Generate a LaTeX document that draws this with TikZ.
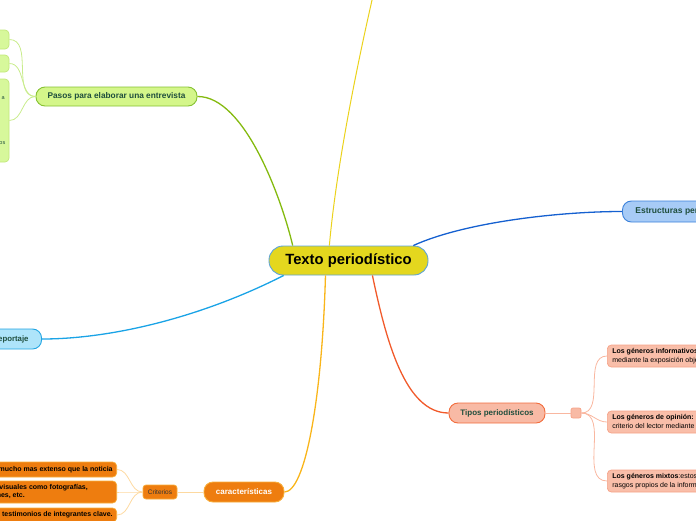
\documentclass[tikz,border=0pt]{standalone}
\usepackage{fontspec}
\setmainfont{Liberation Sans}
\definecolor{cYel}{HTML}{E4D71E}
\definecolor{cYelB}{HTML}{5CA3DA}
\definecolor{gFill}{HTML}{D4F68A}
\definecolor{gBord}{HTML}{86C232}
\definecolor{gsFill}{HTML}{D7F89B}
\definecolor{gsBord}{HTML}{C2E87A}
\definecolor{gMain}{HTML}{84BA0F}
\definecolor{gSub}{HTML}{C9EC8C}
\definecolor{yLine}{HTML}{EBD21C}
\definecolor{bFill}{HTML}{A7CBF6}
\definecolor{bBord}{HTML}{3A80DA}
\definecolor{bLine}{HTML}{1560D0}
\definecolor{cyFill}{HTML}{AEE4FA}
\definecolor{cyBord}{HTML}{22A5E2}
\definecolor{cyLine}{HTML}{1AA3E6}
\definecolor{rFill}{HTML}{F8BAA5}
\definecolor{rBord}{HTML}{F26D3D}
\definecolor{rLine}{HTML}{F15A2B}
\definecolor{sFill}{HTML}{F9BEA9}
\definecolor{sBord}{HTML}{F6A287}
\definecolor{sLine}{HTML}{F9B7A0}
\definecolor{oFill}{HTML}{EE7D0F}
\definecolor{oBord}{HTML}{F8AE3A}
\definecolor{aLine}{HTML}{F9B51A}
\definecolor{aLight}{HTML}{FDD9A0}
\definecolor{txtG}{HTML}{1F4E3D}
\begin{document}
\begin{tikzpicture}[x=1pt,y=-1pt,
  box/.style={draw, rectangle, inner sep=0pt, line width=0.9pt},
  pill/.style={box, rounded corners=9pt, minimum height=20pt},
  smallbox/.style={box, rounded corners=4pt, line width=0.7pt},
  conn/.style={line width=1.3pt},
  subconn/.style={line width=0.8pt},
  fs/.style={font=\fontsize{#1}{9}\selectfont}
]
\useasboundingbox (0,0) rectangle (696,520);
\clip (0,0) rectangle (696,520);

% ---- nodes ----
\node[pill, fill=cYel, draw=cYelB, minimum width=159pt, minimum height=29pt, rounded corners=14pt,
  font=\bfseries\fontsize{14.8}{16}\selectfont] (c) at (348.5,260.5) {Texto periodístico};

\node[pill, fill=gFill, draw=gBord, minimum width=161pt, minimum height=19pt, text=txtG,
  font=\bfseries\fontsize{8.3}{10}\selectfont] (pasos) at (116.5,96.5) {Pasos para elaborar una entrevista};

\node[smallbox, fill=gsFill, draw=gsBord, minimum width=80pt, minimum height=19pt] (g1) at (-31,39.5) {};
\node[smallbox, fill=gsFill, draw=gsBord, minimum width=80pt, minimum height=17pt] (g2) at (-31,63.5) {};
\node[smallbox, fill=gsFill, draw=gsBord, minimum width=80pt, minimum height=83pt] (g3) at (-31,120.5) {};
\node[fs=5.5, text=txtG, anchor=east, inner sep=0pt] (ga) at (5,98) {a};
\node[fs=5.5, text=txtG, anchor=east, inner sep=0pt] (gb) at (5.5,143) {os};

\node[pill, fill=bFill, draw=bBord, anchor=west, inner xsep=13pt, minimum height=21pt, text=txtG,
  font=\bfseries\fontsize{8.5}{10}\selectfont] (estr) at (622,211.5) {Estructuras periodísticas};

\node[pill, fill=cyFill, draw=cyBord, anchor=east, inner xsep=13pt, minimum height=20pt, text=txtG,
  font=\bfseries\fontsize{7.8}{9}\selectfont] (rep) at (42,339) {Reportaje};

\node[pill, fill=rFill, draw=rBord, minimum width=96pt, minimum height=20pt, text=txtG,
  font=\bfseries\fontsize{8}{9}\selectfont] (tipos) at (497,413) {Tipos periodísticos};

\node[box, fill=rFill, draw=sBord, rounded corners=2pt, minimum width=10pt, minimum height=10pt, line width=0.7pt] (sq) at (576,413) {};

\node[smallbox, fill=sFill, draw=sBord, anchor=west, inner xsep=5pt, minimum height=22pt, align=left, fs=7]
  (s1) at (607,356) {\textbf{Los géneros informativos:} buscan informar\\mediante la exposición objetiva de los hechos};
\node[smallbox, fill=sFill, draw=sBord, anchor=west, inner xsep=5pt, minimum height=22pt, align=left, fs=7]
  (s2) at (607,422) {\textbf{Los géneros de opinión:} expresan el\\criterio del lector mediante la argumentación};
\node[smallbox, fill=sFill, draw=sBord, anchor=west, inner xsep=5pt, minimum height=22pt, align=left, fs=7]
  (s3) at (607,481) {\textbf{Los géneros mixtos}:estos combinan\\rasgos propios de la información y opinión};

\node[pill, fill=oFill, draw=oBord, minimum width=80pt, minimum height=20pt, text=white,
  font=\bfseries\fontsize{8}{9}\selectfont] (car) at (244,492) {características};

\node[smallbox, fill=oFill, draw=oBord, rounded corners=3pt, minimum width=34pt, minimum height=14pt,
  text=black!80, fs=6.5] (crit) at (160,492) {Criterios};

\node[smallbox, fill=oFill, draw=oBord, anchor=east, inner xsep=4pt, minimum height=15pt,
  font=\bfseries\fontsize{7}{8.5}\selectfont] (o1) at (117,469.5) {Es mucho mas extenso que la noticia};
\node[smallbox, fill=oFill, draw=oBord, anchor=east, minimum width=200pt, minimum height=22pt] (o2) at (117,492) {};
\node[anchor=east, inner sep=0pt, font=\bfseries\fontsize{7}{8.5}\selectfont] (o2t) at (88,492)
  {\begin{tabular}{@{}l@{}}Utiliza recursos visuales como fotografías,\\gráficos, imágenes, etc.\end{tabular}};
\node[smallbox, fill=oFill, draw=oBord, anchor=east, inner xsep=4pt, minimum height=14pt,
  font=\bfseries\fontsize{7}{8.5}\selectfont] (o3) at (117,515) {Incluye testimonios de integrantes clave.};

\coordinate (ytop) at (372.5,-2);

% ---- connectors ----
\draw[subconn, gSub] (g1.east) to[out=0,in=180] (pasos.west);
\draw[subconn, gSub] (g2.east) to[out=0,in=180] (pasos.west);
\draw[subconn, gSub] (g3.east) to[out=0,in=180] (pasos.west);
\draw[conn, gMain] (pasos.east) .. controls (245,96) and (282,200) .. (c.165);
\draw[line width=1pt, yLine] (c.142) .. controls (336,170) and (356,70) .. (ytop);
\draw[conn, bLine] (c.13) .. controls (465,222) and (560,211.5) .. (estr.west);
\draw[conn, cyLine] (c.193) .. controls (200,318) and (110,339) .. (rep.east);
\draw[conn, rLine] (c.-32) .. controls (386,340) and (405,413) .. (tipos.west);
\draw[subconn, sLine] (tipos.east) -- (sq.west);
\draw[subconn, sLine] (sq.east) to[out=0,in=180] (s1.west);
\draw[subconn, sLine] (sq.east) to[out=0,in=180] (s2.west);
\draw[subconn, sLine] (sq.east) to[out=0,in=180] (s3.west);
\draw[conn, aLine] (c.213) .. controls (322,400) and (305,492) .. (car.east);
\draw[subconn, aLight] (car.west) -- (crit.east);
\draw[subconn, aLight] (crit.west) to[out=180,in=0] (o1.east);
\draw[subconn, aLight] (crit.west) to[out=180,in=0] (o2.east);
\draw[subconn, aLight] (crit.west) to[out=180,in=0] (o3.east);
\end{tikzpicture}
\end{document}
